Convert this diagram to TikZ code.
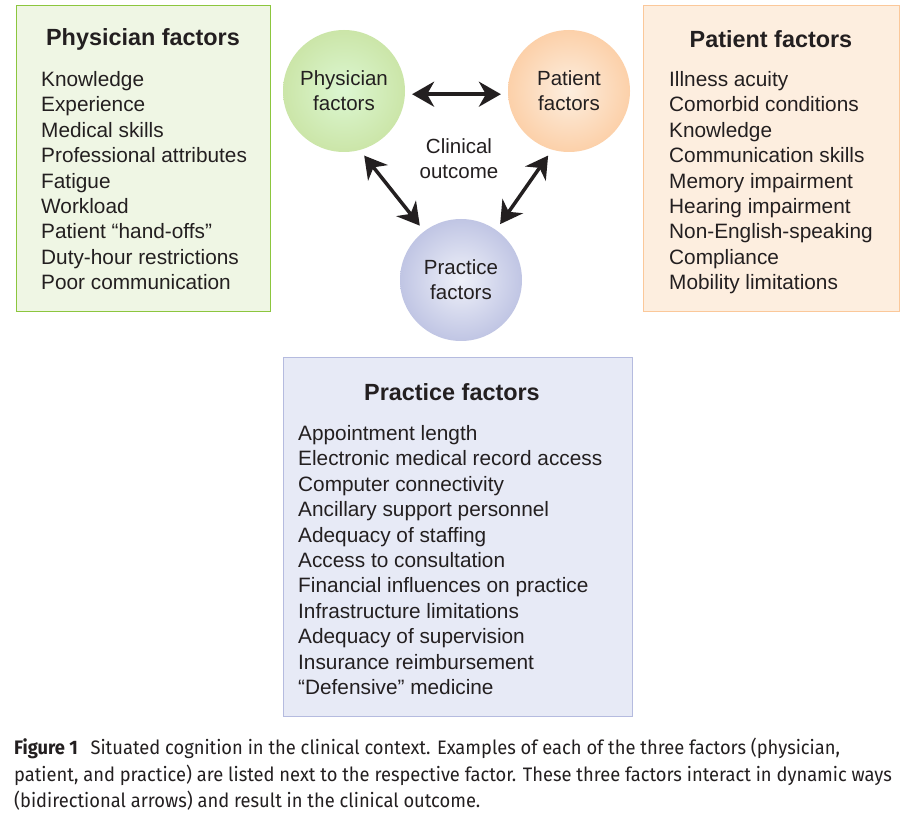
\documentclass[tikz,border=0pt]{standalone}
\usepackage{fontspec}
\setmainfont{Liberation Sans}
\newfontfamily\capfont[FakeStretch=0.94]{Fira Sans}
\usepackage{xcolor}
\usetikzlibrary{arrows.meta}
\definecolor{ink}{HTML}{231F20}
\definecolor{physline}{HTML}{8CC63E}
\definecolor{physfill}{HTML}{EFF6E4}
\definecolor{patline}{HTML}{FBC89A}
\definecolor{patfill}{HTML}{FDEEDF}
\definecolor{pracline}{HTML}{B5BBDF}
\definecolor{pracfill}{HTML}{E7EAF6}
\tikzset{
  factor/.style={circle, minimum size=122pt, inner sep=0pt, align=center, text=ink,
    font=\fontsize{20.5}{25}\selectfont},
  link/.style={line width=3.5pt, ink, {Stealth[length=22pt,width=25pt,inset=7pt]}-{Stealth[length=22pt,width=25pt,inset=7pt]},
    shorten <=7pt, shorten >=7pt},
  boxtitle/.style={text=ink, font=\fontsize{23.4}{28}\selectfont\bfseries},
  boxlist/.style={anchor=north west, align=left, inner sep=0pt, text=ink,
    font=\fontsize{20.8}{25.45}\selectfont}
}
\begin{document}
\begin{tikzpicture}[x=1pt, y=-1pt]
      \useasboundingbox (0,0) rectangle (908,818);
      \fill[white] (0,0) rectangle (908,818);
      \draw[physline, fill=physfill, line width=1pt] (16,6) rectangle (270,312);
      \draw[patline, fill=patfill, line width=1pt] (643,6) rectangle (899,312);
      \draw[pracline, fill=pracfill, line width=1pt] (283,358) rectangle (632,716);
      \node[boxtitle] (physhead) at (143,39) {Physician factors};
      \node[boxtitle] (pathead) at (771,39) {Patient factors};
      \node[boxtitle] (prachead) at (452,392) {Practice factors};
      \node[boxlist] (physlist) at (41,71) {Knowledge\\Experience\\Medical skills\\Professional attributes\\Fatigue\\Workload\\Patient “hand-offs”\\Duty-hour restrictions\\Poor communication};
      \node[boxlist] (patlist) at (669,71) {Illness acuity\\Comorbid conditions\\Knowledge\\Communication skills\\Memory impairment\\Hearing impairment\\Non-English-speaking\\Compliance\\Mobility limitations};
      \node[boxlist] (praclist) at (298,425) {Appointment length\\Electronic medical record access\\Computer connectivity\\Ancillary support personnel\\Adequacy of staffing\\Access to consultation\\Financial influences on practice\\Infrastructure limitations\\Adequacy of supervision\\Insurance reimbursement\\“Defensive” medicine};
      \node[factor, inner color=green!8!physfill, outer color=physline!45!white] (phys) at (344,91) {Physician\\factors};
      \node[factor, inner color=patfill, outer color=patline!85!white] (pat) at (569,91) {Patient\\factors};
      \node[factor, inner color=pracfill!70!white, outer color=pracline!85!white] (prac) at (461,280) {Practice\\factors};
      \node[factor, circle=false, minimum size=0pt] (outcome) at (459,159) {Clinical\\outcome};
      \draw[link] (phys.-3) -- (pat.-177);
      \draw[link] (phys.-75) -- (prac.127);
      \draw[link] (pat.-106) -- (prac.55);
      \node[anchor=north west, align=left, inner sep=0pt, text=ink, font=\capfont\fontsize{19.5}{26.5}\selectfont] (caption) at (14,738)
        {{\bfseries Figure 1}\hspace{0.4em} Situated cognition in the clinical context. Examples of each of the three factors (physician,\\
        patient, and practice) are listed next to the respective factor. These three factors interact in dynamic ways\\
        (bidirectional arrows) and result in the clinical outcome.};
    \end{tikzpicture}
\end{document}
